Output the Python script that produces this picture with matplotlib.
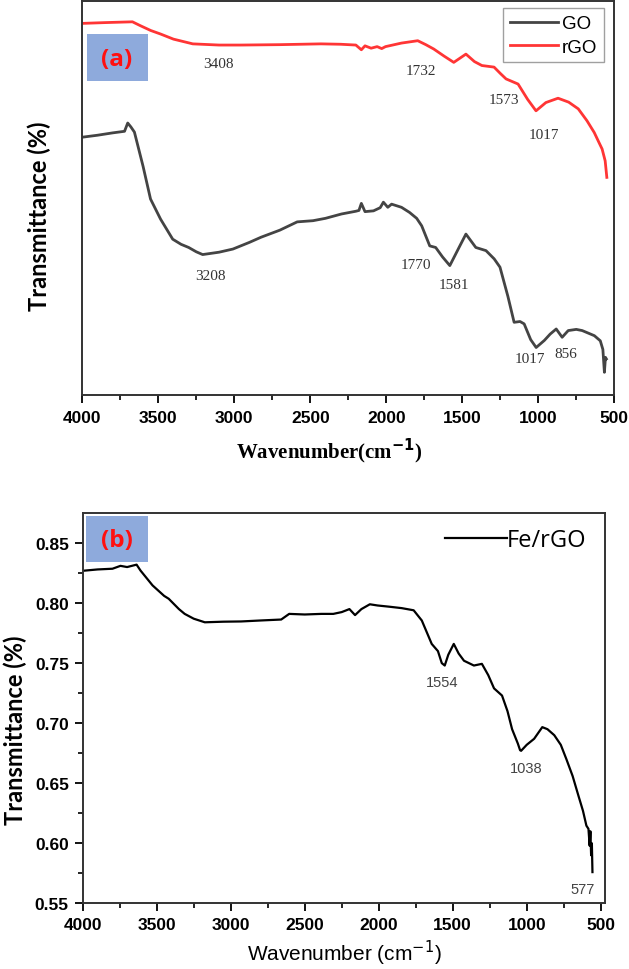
import numpy as np
import matplotlib.pyplot as plt
from matplotlib.patches import Rectangle

# (a) GO / rGO spectra, arbitrary transmittance units
go_wn = [4000, 3900, 3800, 3722, 3701, 3680, 3657, 3600, 3551, 3485, 3405, 3350, 3300, 3250,
         3208, 3100, 3009, 2900, 2824, 2700, 2586, 2482, 2400, 2295, 2200, 2180, 2164, 2140,
         2084, 2040, 2019, 1990, 1965, 1900, 1847, 1800, 1767, 1714, 1675, 1630, 1582, 1520,
         1476, 1411, 1344, 1290, 1252, 1200, 1159, 1120, 1093, 1050, 1014, 960, 922, 882, 843,
         803, 750, 711, 631, 592, 575, 565, 558, 552]
go_t = [65.4, 65.9, 66.5, 66.9, 69.0, 68.0, 66.7, 58.0, 49.7, 44.6, 39.5, 38.2, 37.4, 36.3,
        35.6, 36.2, 37.0, 38.7, 40.0, 41.8, 43.9, 44.2, 44.8, 45.9, 46.6, 46.8, 48.6, 46.5,
        46.7, 47.5, 48.9, 47.6, 48.4, 47.6, 46.3, 44.8, 42.9, 37.8, 37.4, 35.0, 32.8, 37.5,
        40.8, 37.4, 36.6, 34.5, 32.4, 25.0, 18.4, 18.6, 18.0, 14.0, 12.0, 13.8, 15.4, 16.7,
        14.6, 16.3, 16.6, 16.3, 15.0, 13.7, 11.5, 5.7, 9.5, 9.1]

rgo_wn = [4000, 3850, 3670, 3617, 3550, 3485, 3400, 3273, 3100, 2956, 2700, 2430, 2300, 2200,
          2164, 2140, 2100, 2060, 2030, 2005, 1900, 1793, 1740, 1688, 1620, 1556, 1476, 1420,
          1371, 1291, 1250, 1212, 1133, 1070, 1015, 950, 870, 800, 737, 680, 632, 600, 580,
          560, 549]
rgo_t = [94.3, 94.5, 94.7, 93.7, 92.5, 91.6, 90.3, 89.1, 88.8, 88.8, 88.9, 89.1, 89.0, 88.8,
         87.6, 88.6, 88.0, 88.4, 87.9, 88.4, 89.3, 89.9, 88.9, 87.8, 86.0, 84.4, 86.5, 84.6,
         83.6, 83.2, 81.6, 80.2, 78.9, 75.0, 72.1, 74.2, 75.3, 74.3, 72.6, 69.6, 66.6, 64.0,
         62.4, 59.4, 55.2]

# (b) Fe/rGO spectrum
fe_wn = [3989, 3900, 3799, 3745, 3700, 3636, 3609, 3528, 3450, 3419, 3350, 3311, 3250, 3175,
         3050, 2930, 2800, 2659, 2605, 2500, 2388, 2307, 2250, 2198, 2160, 2117, 2060, 2008,
         1930, 1845, 1764, 1709, 1642, 1600, 1574, 1554, 1530, 1493, 1460, 1424, 1357, 1303,
         1260, 1221, 1167, 1130, 1099, 1060, 1045, 1038, 1000, 950, 895, 860, 814, 770, 732,
         690, 651, 620, 597, 583, 575, 570, 565, 560, 556]
fe_t = [0.827, 0.828, 0.8286, 0.831, 0.830, 0.832, 0.827, 0.8147, 0.806, 0.8036, 0.795,
        0.791, 0.787, 0.784, 0.7845, 0.7847, 0.7855, 0.7863, 0.791, 0.7905, 0.791, 0.791,
        0.7925, 0.795, 0.790, 0.795, 0.799, 0.798, 0.797, 0.7958, 0.794, 0.7855, 0.766, 0.760,
        0.750, 0.748, 0.757, 0.766, 0.758, 0.752, 0.748, 0.7494, 0.740, 0.729, 0.723, 0.710,
        0.695, 0.683, 0.6775, 0.677, 0.682, 0.687, 0.6967, 0.695, 0.690, 0.682, 0.670, 0.656,
        0.6397, 0.627, 0.6147, 0.612, 0.598, 0.610, 0.590, 0.600, 0.576]

peaks_go = [("3208", 3155, 30.4), ("1770", 1807, 33.2), ("1581", 1556, 27.9),
            ("1017", 1054, 9.2), ("856", 816, 10.6)]
peaks_rgo = [("3408", 3101, 84.0), ("1732", 1772, 82.3), ("1573", 1226, 75.1),
             ("1017", 963, 66.2)]
peaks_fe = [("1554", 1574, 0.7347), ("1038", 1005, 0.6625), ("577", 624, 0.562)]

fig = plt.figure(figsize=(6.29, 9.70), dpi=100)

# ---- panel (a)
ax1 = fig.add_axes([0.1308, 0.592, 0.8458, 0.406])
ax1.plot(go_wn, go_t, color='#444444', lw=2, label='GO')
ax1.plot(rgo_wn, rgo_t, color='#ff3535', lw=2, label='rGO')
ax1.set_xlim(4000, 500)
ax1.set_ylim(0, 100)
ax1.set_yticks([])
ax1.set_xticks(np.arange(4000, 499, -500))
ax1.set_xticks(np.arange(3750, 500, -500), minor=True)
ax1.tick_params(axis='x', which='major', direction='out', length=6, width=1.3, pad=5)
ax1.tick_params(axis='x', which='minor', direction='out', length=3.5, width=1.2)
for lab in ax1.get_xticklabels():
    lab.set_fontfamily('Liberation Sans')
    lab.set_fontweight('bold')
    lab.set_fontsize(12.5)
for s in ax1.spines.values():
    s.set_linewidth(1.4)
    s.set_color('#333333')
for txt, x, y in peaks_go + peaks_rgo:
    ax1.text(x, y, txt, ha='center', va='center', fontsize=11,
             family='Liberation Serif', color='#333333')
leg = ax1.legend(loc='upper right', bbox_to_anchor=(0.981, 0.981), borderaxespad=0,
                 fancybox=False, edgecolor='#888888', prop={'family': 'Liberation Sans', 'size': 13.5},
                 handlelength=2.6, handletextpad=0.2, labelspacing=0.35, borderpad=0.35)
leg.get_frame().set_linewidth(1.0)
ax1.add_patch(Rectangle((0.0083, 0.797), 0.1147, 0.119, transform=ax1.transAxes,
                        facecolor='#8eaadc', edgecolor='none'))
ax1.text(0.065, 0.853, '(a)', transform=ax1.transAxes, ha='center', va='center',
         fontsize=17.5, fontweight='bold', color='#ff1010', family='Open Sans')
fig.text(329 / 629, 1 - 451 / 970, 'Wavenumber(cm$^{\\mathbf{-1}}$)', ha='center', va='center',
         fontsize=15, fontweight='bold', family='Liberation Serif')
fig.text(39 / 629, 1 - 216 / 970, 'Transmittance (%)', rotation=90, ha='center', va='center',
         fontsize=17, fontweight='bold', family='Lato')

# ---- panel (b)
ax2 = fig.add_axes([0.1315, 0.0677, 0.8304, 0.4024])
ax2.plot(fe_wn, fe_t, color='black', lw=1.6, label='Fe/rGO')
ax2.set_xlim(4000, 471)
ax2.set_ylim(0.55, 0.875)
ax2.set_xticks(np.arange(4000, 499, -500))
ax2.set_xticks(np.arange(3750, 500, -500), minor=True)
ax2.set_yticks(np.arange(0.55, 0.851, 0.05))
ax2.set_yticks(np.arange(0.575, 0.86, 0.05), minor=True)
ax2.yaxis.set_major_formatter(plt.FormatStrFormatter('%.2f'))
ax2.tick_params(which='major', direction='out', length=6, width=1.3, pad=4)
ax2.tick_params(which='minor', direction='out', length=3.5, width=1.2)
for lab in ax2.get_xticklabels() + ax2.get_yticklabels():
    lab.set_fontfamily('Liberation Sans')
    lab.set_fontweight('bold')
    lab.set_fontsize(12.5)
for s in ax2.spines.values():
    s.set_linewidth(1.4)
    s.set_color('#333333')
for txt, x, y in peaks_fe:
    ax2.text(x, y, txt, ha='center', va='center', fontsize=10.5,
             family='Liberation Sans', color='#444444')
ax2.legend(loc='upper right', bbox_to_anchor=(0.982, 0.985), borderaxespad=0, frameon=False,
           prop={'family': 'Open Sans', 'size': 17}, handlelength=2.6, handletextpad=0.0)
ax2.add_patch(Rectangle((0.0063, 0.8745), 0.118, 0.1175, transform=ax2.transAxes,
                        facecolor='#8eaadc', edgecolor='none'))
ax2.text(0.0657, 0.931, '(b)', transform=ax2.transAxes, ha='center', va='center',
         fontsize=17.5, fontweight='bold', color='#ff1010', family='Open Sans')
fig.text(344 / 629, 1 - 953 / 970, 'Wavenumber (cm$^{-1}$)', ha='center', va='center',
         fontsize=15, family='Liberation Sans')
fig.text(15 / 629, 1 - 730 / 970, 'Transmittance (%)', rotation=90, ha='center', va='center',
         fontsize=17, fontweight='bold', family='Lato')

fig.savefig('out.png', dpi=100)
